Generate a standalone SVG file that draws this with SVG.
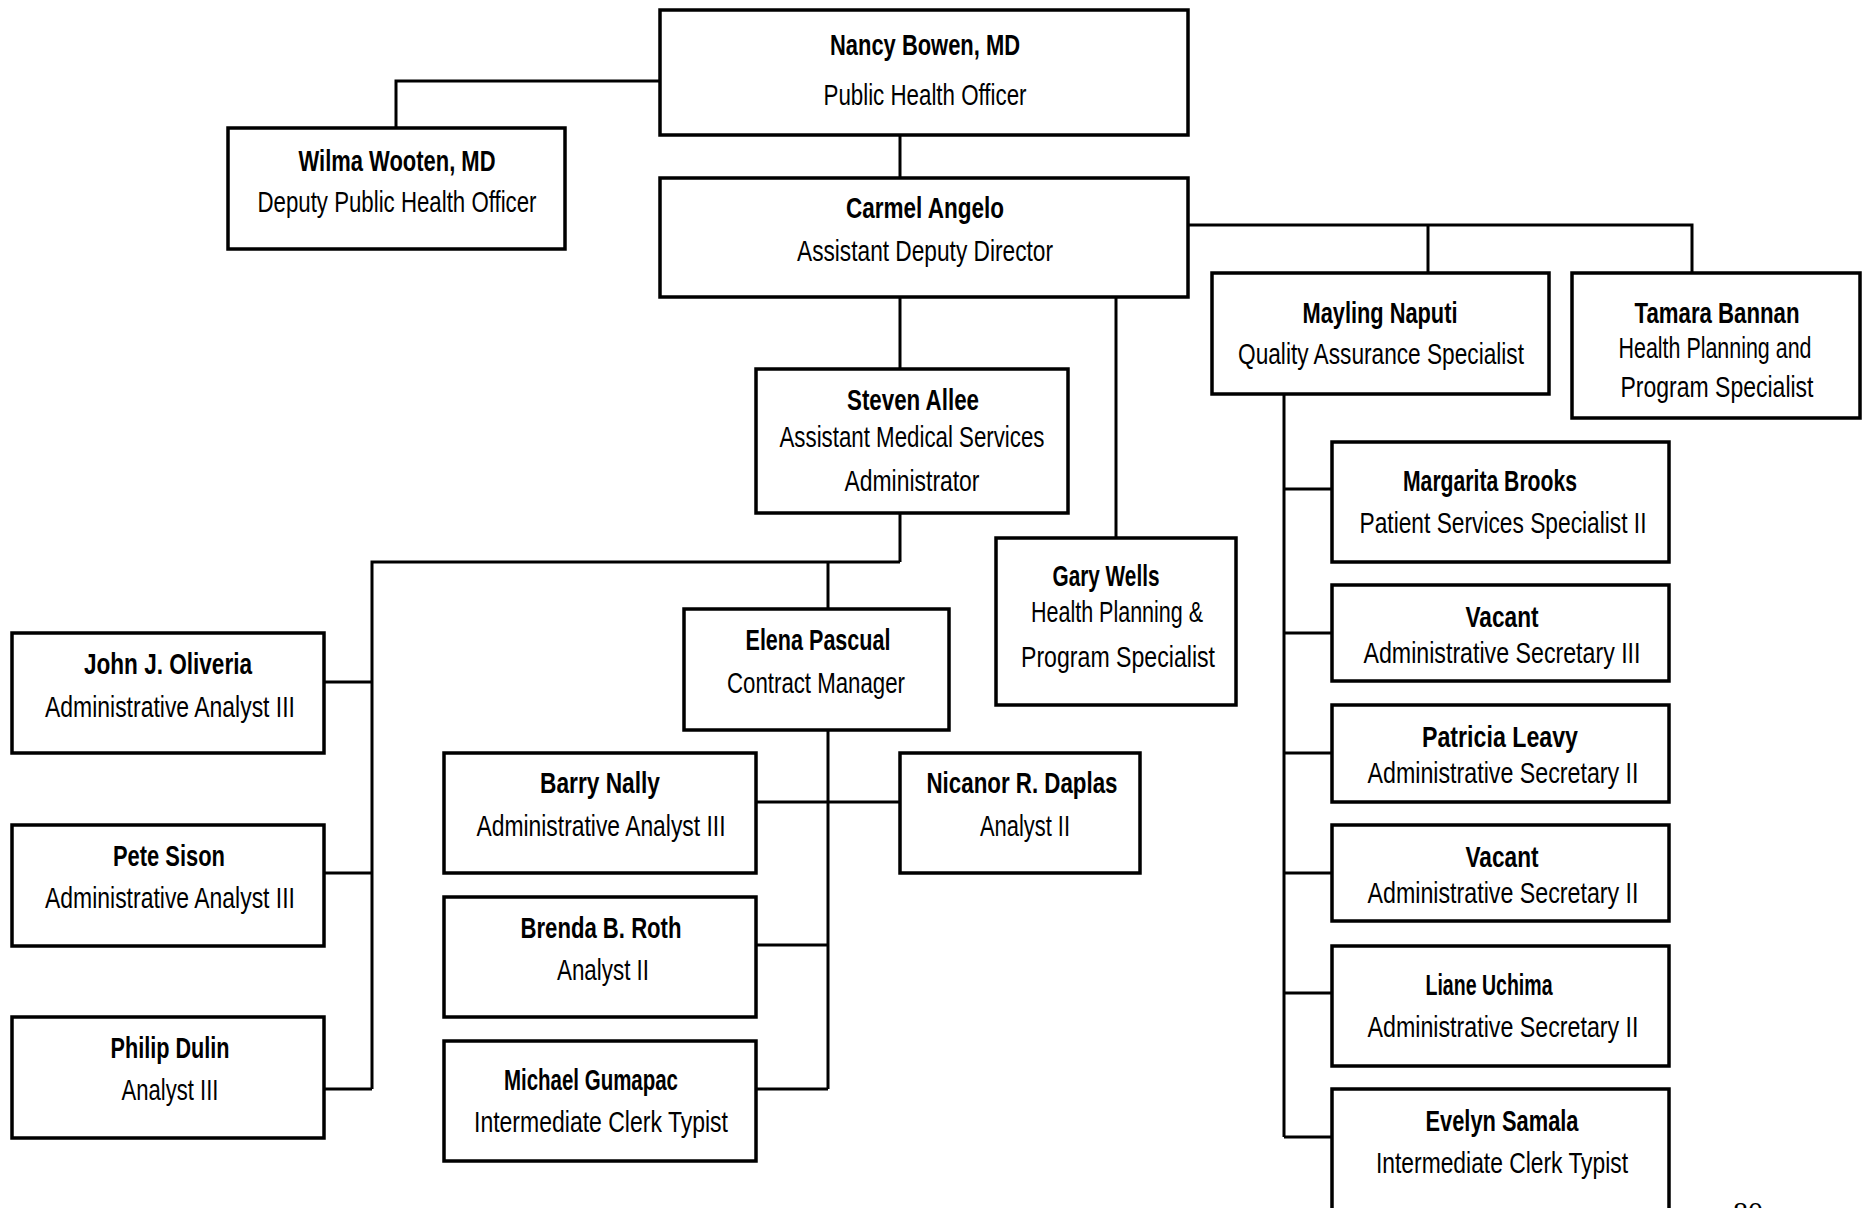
<svg xmlns="http://www.w3.org/2000/svg" width="1862" height="1208" viewBox="0 0 1862 1208">
<style>
  rect.box { fill: #fff; stroke: #000; stroke-width: 3.5; }
  .conn path { fill: none; stroke: #000; stroke-width: 3; }
  text { font-family: "Liberation Sans Narrow", "Liberation Sans", Arial, sans-serif; font-size: 29px; text-anchor: middle; fill: #000; }
  text.n { font-weight: 700; }
  text.t { font-weight: 400; }
  text.pg { font-family: "Liberation Serif", "Times New Roman", serif; font-size: 30px; }
</style>
<rect x="0" y="0" width="1862" height="1208" fill="#fff"/>
<g class="conn" id="connectors">
  <path d="M660 81 H396 V128"/>
  <path d="M900 135 V178"/>
  <path d="M900 297 V369"/>
  <path d="M1116 297 V538"/>
  <path d="M1188 225 H1692 V273"/>
  <path d="M1428 225 V273"/>
  <path d="M900 513 V562"/>
  <path d="M372 1089 V562 H900"/>
  <path d="M828 562 V609"/>
  <path d="M324 682 H372"/>
  <path d="M324 873 H372"/>
  <path d="M324 1089 H372"/>
  <path d="M828 730 V1089"/>
  <path d="M756 802 H900"/>
  <path d="M756 945 H828"/>
  <path d="M756 1089 H828"/>
  <path d="M1284 394 V1137"/>
  <path d="M1284 489 H1332"/>
  <path d="M1284 633 H1332"/>
  <path d="M1284 753 H1332"/>
  <path d="M1284 873 H1332"/>
  <path d="M1284 993 H1332"/>
  <path d="M1284 1137 H1332"/>
</g>
<g id="nancy"><rect class="box" x="660" y="10" width="528" height="125"/>
  <text class="n" x="925" y="55" textLength="190" lengthAdjust="spacingAndGlyphs">Nancy Bowen, MD</text>
  <text class="t" x="925" y="105" textLength="203" lengthAdjust="spacingAndGlyphs">Public Health Officer</text></g>
<g id="wilma"><rect class="box" x="228" y="128" width="337" height="121"/>
  <text class="n" x="397" y="171" textLength="197" lengthAdjust="spacingAndGlyphs">Wilma Wooten, MD</text>
  <text class="t" x="397" y="212" textLength="279" lengthAdjust="spacingAndGlyphs">Deputy Public Health Officer</text></g>
<g id="carmel"><rect class="box" x="660" y="178" width="528" height="119"/>
  <text class="n" x="925" y="218" textLength="158" lengthAdjust="spacingAndGlyphs">Carmel Angelo</text>
  <text class="t" x="925" y="261" textLength="256" lengthAdjust="spacingAndGlyphs">Assistant Deputy Director</text></g>
<g id="steven"><rect class="box" x="756" y="369" width="312" height="144"/>
  <text class="n" x="913" y="410" textLength="132" lengthAdjust="spacingAndGlyphs">Steven Allee</text>
  <text class="t" x="912" y="447" textLength="265" lengthAdjust="spacingAndGlyphs">Assistant Medical Services</text>
  <text class="t" x="912" y="491" textLength="135" lengthAdjust="spacingAndGlyphs">Administrator</text></g>
<g id="gary"><rect class="box" x="996" y="538" width="240" height="167"/>
  <text class="n" x="1106" y="586" textLength="107" lengthAdjust="spacingAndGlyphs">Gary Wells</text>
  <text class="t" x="1117" y="622" textLength="172" lengthAdjust="spacingAndGlyphs">Health Planning &amp;</text>
  <text class="t" x="1118" y="667" textLength="194" lengthAdjust="spacingAndGlyphs">Program Specialist</text></g>
<g id="mayling"><rect class="box" x="1212" y="273" width="337" height="121"/>
  <text class="n" x="1380" y="323" textLength="155" lengthAdjust="spacingAndGlyphs">Mayling Naputi</text>
  <text class="t" x="1381" y="364" textLength="286" lengthAdjust="spacingAndGlyphs">Quality Assurance Specialist</text></g>
<g id="tamara"><rect class="box" x="1572" y="273" width="288" height="145"/>
  <text class="n" x="1717" y="323" textLength="165" lengthAdjust="spacingAndGlyphs">Tamara Bannan</text>
  <text class="t" x="1715" y="358" textLength="193" lengthAdjust="spacingAndGlyphs">Health Planning and</text>
  <text class="t" x="1717" y="397" textLength="193" lengthAdjust="spacingAndGlyphs">Program Specialist</text></g>
<g id="john"><rect class="box" x="12" y="633" width="312" height="120"/>
  <text class="n" x="168" y="674" textLength="168" lengthAdjust="spacingAndGlyphs">John J. Oliveria</text>
  <text class="t" x="170" y="717" textLength="250" lengthAdjust="spacingAndGlyphs">Administrative Analyst III</text></g>
<g id="elena"><rect class="box" x="684" y="609" width="265" height="121"/>
  <text class="n" x="818" y="650" textLength="145" lengthAdjust="spacingAndGlyphs">Elena Pascual</text>
  <text class="t" x="816" y="693" textLength="178" lengthAdjust="spacingAndGlyphs">Contract Manager</text></g>
<g id="pete"><rect class="box" x="12" y="825" width="312" height="121"/>
  <text class="n" x="169" y="866" textLength="112" lengthAdjust="spacingAndGlyphs">Pete Sison</text>
  <text class="t" x="170" y="908" textLength="250" lengthAdjust="spacingAndGlyphs">Administrative Analyst III</text></g>
<g id="philip"><rect class="box" x="12" y="1017" width="312" height="121"/>
  <text class="n" x="170" y="1058" textLength="119" lengthAdjust="spacingAndGlyphs">Philip Dulin</text>
  <text class="t" x="170" y="1100" textLength="97" lengthAdjust="spacingAndGlyphs">Analyst III</text></g>
<g id="barry"><rect class="box" x="444" y="753" width="312" height="120"/>
  <text class="n" x="600" y="793" textLength="120" lengthAdjust="spacingAndGlyphs">Barry Nally</text>
  <text class="t" x="601" y="836" textLength="249" lengthAdjust="spacingAndGlyphs">Administrative Analyst III</text></g>
<g id="nicanor"><rect class="box" x="900" y="753" width="240" height="120"/>
  <text class="n" x="1022" y="793" textLength="191" lengthAdjust="spacingAndGlyphs">Nicanor R. Daplas</text>
  <text class="t" x="1025" y="836" textLength="90" lengthAdjust="spacingAndGlyphs">Analyst II</text></g>
<g id="brenda"><rect class="box" x="444" y="897" width="312" height="120"/>
  <text class="n" x="601" y="938" textLength="161" lengthAdjust="spacingAndGlyphs">Brenda B. Roth</text>
  <text class="t" x="603" y="980" textLength="92" lengthAdjust="spacingAndGlyphs">Analyst II</text></g>
<g id="michael"><rect class="box" x="444" y="1041" width="312" height="120"/>
  <text class="n" x="591" y="1090" textLength="174" lengthAdjust="spacingAndGlyphs">Michael Gumapac</text>
  <text class="t" x="601" y="1132" textLength="254" lengthAdjust="spacingAndGlyphs">Intermediate Clerk Typist</text></g>
<g id="margarita"><rect class="box" x="1332" y="442" width="337" height="120"/>
  <text class="n" x="1490" y="491" textLength="174" lengthAdjust="spacingAndGlyphs">Margarita Brooks</text>
  <text class="t" x="1503" y="533" textLength="287" lengthAdjust="spacingAndGlyphs">Patient Services Specialist II</text></g>
<g id="vacant1"><rect class="box" x="1332" y="585" width="337" height="96"/>
  <text class="n" x="1502" y="627" textLength="73" lengthAdjust="spacingAndGlyphs">Vacant</text>
  <text class="t" x="1502" y="663" textLength="277" lengthAdjust="spacingAndGlyphs">Administrative Secretary III</text></g>
<g id="patricia"><rect class="box" x="1332" y="705" width="337" height="97"/>
  <text class="n" x="1500" y="747" textLength="156" lengthAdjust="spacingAndGlyphs">Patricia Leavy</text>
  <text class="t" x="1503" y="783" textLength="271" lengthAdjust="spacingAndGlyphs">Administrative Secretary II</text></g>
<g id="vacant2"><rect class="box" x="1332" y="825" width="337" height="96"/>
  <text class="n" x="1502" y="867" textLength="73" lengthAdjust="spacingAndGlyphs">Vacant</text>
  <text class="t" x="1503" y="903" textLength="271" lengthAdjust="spacingAndGlyphs">Administrative Secretary II</text></g>
<g id="liane"><rect class="box" x="1332" y="946" width="337" height="120"/>
  <text class="n" x="1489" y="995" textLength="127" lengthAdjust="spacingAndGlyphs">Liane Uchima</text>
  <text class="t" x="1503" y="1037" textLength="271" lengthAdjust="spacingAndGlyphs">Administrative Secretary II</text></g>
<g id="evelyn"><rect class="box" x="1332" y="1089" width="337" height="125"/>
  <text class="n" x="1502" y="1131" textLength="153" lengthAdjust="spacingAndGlyphs">Evelyn Samala</text>
  <text class="t" x="1502" y="1173" textLength="252" lengthAdjust="spacingAndGlyphs">Intermediate Clerk Typist</text></g>
<text class="pg" x="1748" y="1222">80</text>
</svg>
